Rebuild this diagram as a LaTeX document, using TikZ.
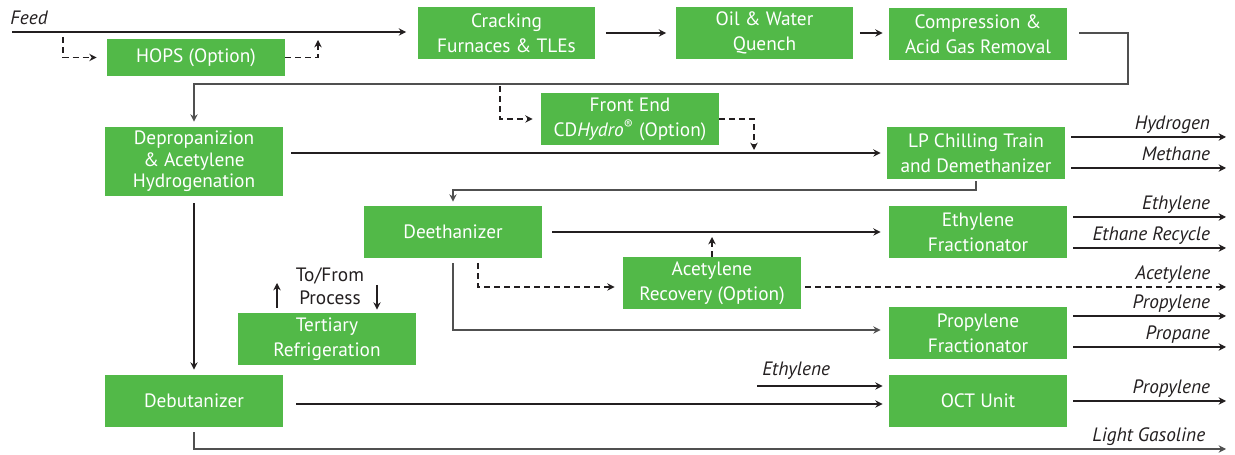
\documentclass[tikz,border=0pt]{standalone}
\usepackage{fontspec}
\setmainfont{PT Sans}
\usepackage{tikz}
\usetikzlibrary{arrows.meta,positioning,calc}
\definecolor{boxgreen}{RGB}{82,185,72}
\definecolor{linegray}{RGB}{80,80,80}
\definecolor{fontblack}{RGB}{35,31,32}

\begin{document}
\begin{tikzpicture}[x=0.02cm, y=-0.02cm, >={Stealth[length=4.2pt,width=4.2pt]},
	unitbox/.style={fill=boxgreen, text=white, minimum width=3.56cm, minimum height=1.04cm, inner sep=0pt, align=center, font=\fontsize{11}{14.2}\selectfont},
	flowLine/.style={line width=1.1pt, ->, color=fontblack},
	grayLine/.style={line width=0.9pt, ->, color=linegray},
	optLine/.style={line width=0.8pt, ->, color=fontblack, dash pattern=on 3.4pt off 2.3pt},
	streamText/.style={font=\fontsize{11}{14.2}\selectfont\itshape, text=fontblack, inner sep=0pt},
	outText/.style={streamText, anchor=base east, xshift=-0.3cm, yshift=0.14cm}
	]
	\useasboundingbox (0,0) rectangle (1235,455);

	\node[unitbox, minimum height=0.74cm] (hops) at (196,57.5) {HOPS (Option)};
	\node[unitbox] (crack) at (506.5,33) {Cracking\\Furnaces \& TLEs};
	\node[unitbox] (quench) at (764.5,33) {Oil \& Water\\Quench};
	\node[unitbox] (compr) at (978,34) {Compression \&\\Acid Gas Removal};
	\node[unitbox] (frontEnd) at (630,119) {Front End\\CD\textit{Hydro}\textsuperscript{\textregistered} (Option)};
	\node[unitbox, minimum height=1.38cm, font=\fontsize{11}{12.2}\selectfont] (deprop) at (194,161.5) {Depropanizion\\\& Acetylene\\Hydrogenation};
	\node[unitbox] (chill) at (976,153) {LP Chilling Train\\and Demethanizer};
	\node[unitbox] (deeth) at (453,232) {Deethanizer};
	\node[unitbox] (ethFrac) at (978,232) {Ethylene\\Fractionator};
	\node[unitbox] (acetRec) at (712,283) {Acetylene\\Recovery (Option)};
	\node[unitbox] (tertRef) at (327,339) {Tertiary\\Refrigeration};
	\node[unitbox] (propFrac) at (978,333) {Propylene\\Fractionator};
	\node[unitbox] (debut) at (194,401) {Debutanizer};
	\node[unitbox] (oct) at (978,401) {OCT Unit};

	\coordinate (feedIn) at (12,32);
	\coordinate (hopsTap) at (63,37);
	\coordinate (hopsBack) at (318,40);
	\coordinate (comprTurn) at (1128,84);
	\coordinate (feTap) at (500,86);
	\coordinate (feDrop) at (754,150);
	\coordinate (h2Out) at (1226,137);
	\coordinate (ch4Out) at (1226,168);
	\coordinate (chillTurn) at (976,190);
	\coordinate (ethOut) at (1226,217);
	\coordinate (recycleOut) at (1226,248);
	\coordinate (deethTap) at (478,263);
	\coordinate (acetOut) at (1226,287);
	\coordinate (c3Out) at (1226,316);
	\coordinate (propaneOut) at (1226,347);
	\coordinate (refUp) at (277,283);
	\coordinate (refDown) at (377,285);
	\coordinate (c2In) at (757,386);
	\coordinate (octOut) at (1226,401);
	\coordinate (gasOut) at (1226,449);

	\node[streamText, anchor=base west] (feedText) at (10,25) {Feed};
	\draw [flowLine, shorten >=0.22cm] (feedIn) -- (feedIn -| crack.west);
	\draw [flowLine, shorten <=0.2cm, shorten >=0.18cm] (crack) -- (quench);
	\draw [flowLine, shorten <=0.12cm, shorten >=0.12cm] (quench.east) -- (quench.east -| compr.west);
	\draw [grayLine, shorten <=0.24cm, shorten >=0.1cm] (compr.east |- quench.east) -| (comprTurn) -| (deprop.north);

	\draw [optLine, shorten >=0.2cm] (hopsTap) |- (hops.west);
	\draw [optLine] (hops.east) -| (hopsBack);
	\draw [optLine, shorten >=0.16cm] (feTap) |- (frontEnd.west);
	\draw [optLine] (frontEnd.east) -| (feDrop);

	\draw [flowLine, shorten <=0.16cm, shorten >=0.12cm] (chill.west -| deprop.east) -- (chill.west);
	\draw [flowLine, shorten <=0.12cm] (h2Out -| chill.east) -- (h2Out) node[outText]{Hydrogen};
	\draw [flowLine, shorten <=0.12cm] (ch4Out -| chill.east) -- (ch4Out) node[outText]{Methane};
	\draw [grayLine, shorten <=0.04cm, shorten >=0.08cm] (chill.south) -- (chillTurn) -| (deeth.north);
	\draw [flowLine, shorten <=0.14cm, shorten >=0.1cm] (deprop.south) -- (debut.north);

	\draw [flowLine, shorten <=0.2cm, shorten >=0.16cm] (deeth) -- (ethFrac);
	\draw [flowLine, shorten <=0.12cm] (ethOut -| ethFrac.east) -- (ethOut) node[outText]{Ethylene};
	\draw [flowLine, shorten <=0.12cm] (recycleOut -| ethFrac.east) -- (recycleOut) node[outText]{Ethane Recycle};
	\draw [optLine, shorten >=0.1cm] (acetRec.north) -- (acetRec.north |- deeth.east);
	\draw [optLine, shorten >=0.16cm] (deethTap) |- (acetOut -| acetRec.west);
	\draw [optLine, shorten <=0.08cm] (acetOut -| acetRec.east) -- (acetOut) node[outText]{Acetylene};
	\draw [grayLine, shorten <=0.1cm, shorten >=0.16cm] (deeth.south) |- ([yshift=0.06cm]propFrac.west);
	\draw [flowLine, shorten <=0.12cm] (c3Out -| propFrac.east) -- (c3Out) node[outText]{Propylene};
	\draw [flowLine, shorten <=0.12cm] (propaneOut -| propFrac.east) -- (propaneOut) node[outText]{Propane};

	\node[text=fontblack, align=center, inner sep=0pt, font=\fontsize{11}{13}\selectfont] (procText) at (330,286) {To/From\\Process};
	\draw [flowLine, shorten <=0.1cm] (refUp |- tertRef.north) -- (refUp);
	\draw [flowLine, shorten >=0.06cm] (refDown) -- (refDown |- tertRef.north);

	\draw [flowLine, shorten <=0.26cm, shorten >=0.12cm] ([yshift=-0.06cm]debut.east) -- ([yshift=-0.06cm]debut.east -| oct.west);
	\node[streamText, anchor=base west] (c2Text) at (762,376) {Ethylene};
	\draw [flowLine, shorten >=0.12cm] (c2In) -- (c2In -| oct.west);
	\draw [flowLine, shorten <=0.12cm] (octOut -| oct.east) -- (octOut) node[outText]{Propylene};
	\draw [grayLine, shorten <=0.1cm] (debut.south) |- (gasOut) node[outText, xshift=-0.1cm]{Light Gasoline};
\end{tikzpicture}
\end{document}
